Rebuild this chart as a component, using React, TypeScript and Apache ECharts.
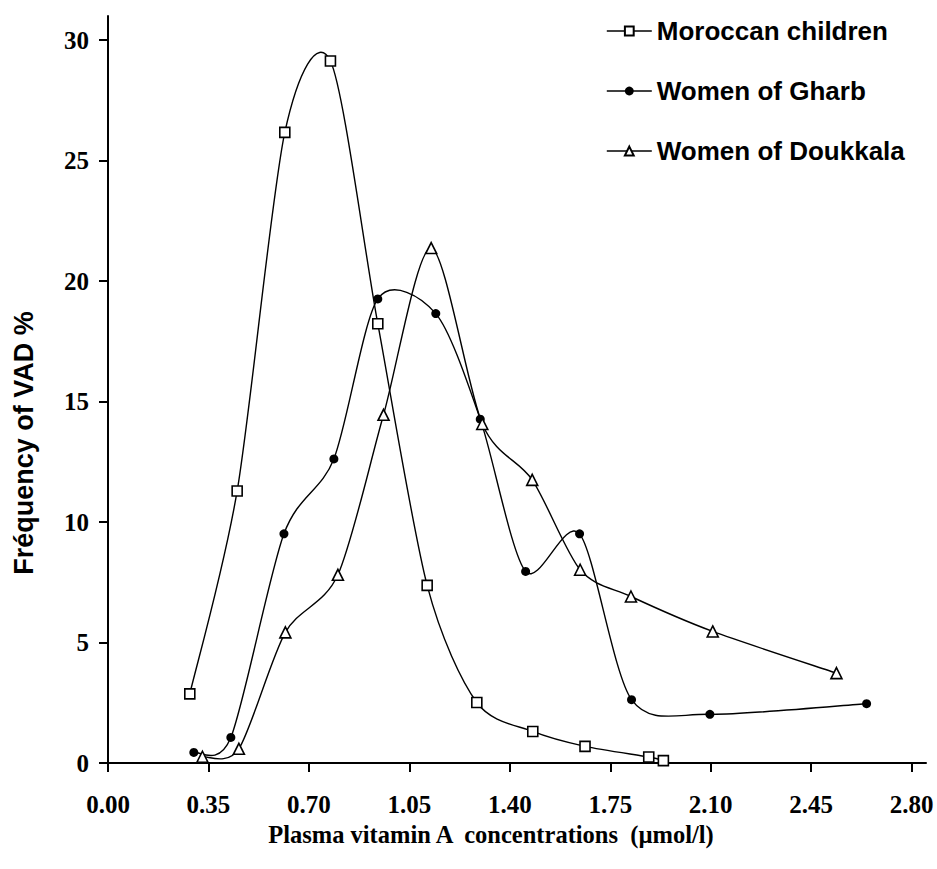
import React, { useEffect, useRef } from "react";
import * as echarts from "echarts";

const xTickValues = [0, 0.35, 0.7, 1.05, 1.4, 1.75, 2.1, 2.45, 2.8];
const yTickValues = [0, 5, 10, 15, 20, 25, 30];

const childrenX = [0.285, 0.45, 0.616, 0.775, 0.94, 1.112, 1.285, 1.48, 1.662, 1.884, 1.935];
const childrenY = [2.87, 11.29, 26.17, 29.13, 18.23, 7.37, 2.51, 1.31, 0.69, 0.25, 0.1];

const gharbX = [0.299, 0.428, 0.613, 0.787, 0.94, 1.142, 1.297, 1.455, 1.643, 1.824, 2.097, 2.643];
const gharbY = [0.44, 1.06, 9.51, 12.62, 19.26, 18.65, 14.27, 7.95, 9.51, 2.63, 2.02, 2.46];

const doukkalaX = [0.329, 0.456, 0.618, 0.801, 0.96, 1.126, 1.304, 1.478, 1.645, 1.822, 2.107, 2.538];
const doukkalaY = [0.26, 0.59, 5.42, 7.81, 14.45, 21.37, 14.07, 11.75, 8.02, 6.91, 5.46, 3.73];

const seriesNames = ["Moroccan children", "Women of Gharb", "Women of Doukkala"];

const pair = (xs: number[], ys: number[]) => xs.map((x, i) => [x, ys[i]]);

// segments for a Catmull-Rom style smoothed curve (like a spreadsheet's smoothed line)
const segments = (xs: number[], ys: number[]) => {
  const n = xs.length;
  const out: number[][] = [];
  for (let i = 0; i < n - 1; i++) {
    const a = Math.max(0, i - 1);
    const d = Math.min(n - 1, i + 2);
    out.push([xs[a], ys[a], xs[i], ys[i], xs[i + 1], ys[i + 1], xs[d], ys[d]]);
  }
  return out;
};

export default function App() {
  const ref = useRef<HTMLDivElement>(null);

  useEffect(() => {
    document.body.style.margin = "0";
    const chart = echarts.init(ref.current!, null, { renderer: "svg" });
    const serif = "'Liberation Serif', 'Times New Roman', serif";
    const sans = "'Liberation Sans', Arial, sans-serif";

    const renderCurve = (_params: any, api: any) => {
      const p0 = api.coord([api.value(0), api.value(1)]);
      const p1 = api.coord([api.value(2), api.value(3)]);
      const p2 = api.coord([api.value(4), api.value(5)]);
      const p3 = api.coord([api.value(6), api.value(7)]);
      const t = 0.14;
      return {
        type: "bezierCurve",
        shape: {
          x1: p1[0],
          y1: p1[1],
          x2: p2[0],
          y2: p2[1],
          cpx1: p1[0] + (p2[0] - p0[0]) * t,
          cpy1: p1[1] + (p2[1] - p0[1]) * t,
          cpx2: p2[0] - (p3[0] - p1[0]) * t,
          cpy2: p2[1] - (p3[1] - p1[1]) * t,
        },
        style: { stroke: "#000", lineWidth: 1.4, fill: null },
        silent: true,
      };
    };

    const curve = (id: string, xs: number[], ys: number[]) => ({
      type: "custom",
      name: id,
      z: 1,
      clip: false,
      renderItem: renderCurve,
      encode: { x: [0, 2, 4, 6], y: [1, 3, 5, 7] },
      data: segments(xs, ys),
    });

    const markerBase = {
      type: "line",
      z: 3,
      lineStyle: { color: "#000", width: 0, opacity: 0 },
    };

    chart.setOption({
      animation: false,
      backgroundColor: "#fff",
      grid: { left: 108, right: 11, top: 16, bottom: 106, containLabel: false },
      legend: {
        orient: "vertical",
        left: 601,
        top: 11,
        itemWidth: 45,
        itemHeight: 11,
        itemGap: 30,
        data: seriesNames,
        lineStyle: { color: "#000", width: 1.6, opacity: 1 },
        textStyle: {
          fontFamily: sans,
          fontWeight: "bold",
          fontSize: 26,
          lineHeight: 30,
          color: "#000",
        },
      },
      xAxis: {
        type: "value",
        min: 0,
        max: 2.85,
        interval: 0.35,
        axisLine: { show: true, onZero: false, lineStyle: { color: "#000", width: 2 } },
        axisTick: { show: true, length: 9, customValues: xTickValues, lineStyle: { color: "#000", width: 2 } },
        axisLabel: {
          customValues: xTickValues,
          formatter: (v: number) => v.toFixed(2),
          fontFamily: serif,
          fontWeight: "bold",
          fontSize: 25,
          color: "#000",
          margin: 29,
        },
        splitLine: { show: false },
      },
      yAxis: {
        type: "value",
        min: 0,
        max: 31,
        interval: 5,
        axisLine: { show: true, lineStyle: { color: "#000", width: 2 } },
        axisTick: { show: true, length: 9, customValues: yTickValues, lineStyle: { color: "#000", width: 2 } },
        axisLabel: {
          customValues: yTickValues,
          fontFamily: serif,
          fontWeight: "bold",
          fontSize: 25,
          color: "#000",
          margin: 19,
        },
        splitLine: { show: false },
      },
      graphic: [
        {
          type: "text",
          x: 24,
          y: 443,
          rotation: Math.PI / 2,
          style: {
            text: "Fréquency of VAD %",
            fontFamily: sans,
            fontWeight: "bold",
            fontSize: 27,
            fill: "#000",
            align: "center",
            verticalAlign: "middle",
          },
        },
        {
          type: "text",
          x: 491,
          y: 834,
          style: {
            text: "Plasma vitamin A  concentrations  (µmol/l)",
            fontFamily: serif,
            fontWeight: "bold",
            fontSize: 24.5,
            fill: "#000",
            align: "center",
            verticalAlign: "middle",
          },
        },
      ],
      series: [
        curve("curve-children", childrenX, childrenY),
        curve("curve-gharb", gharbX, gharbY),
        curve("curve-doukkala", doukkalaX, doukkalaY),
        {
          ...markerBase,
          name: seriesNames[0],
          data: pair(childrenX, childrenY),
          symbol: "rect",
          symbolSize: 10,
          itemStyle: { color: "#fff", borderColor: "#000", borderWidth: 1.6 },
        },
        {
          ...markerBase,
          name: seriesNames[1],
          data: pair(gharbX, gharbY),
          symbol: "circle",
          symbolSize: 9,
          itemStyle: { color: "#000", borderColor: "#000", borderWidth: 0 },
        },
        {
          ...markerBase,
          name: seriesNames[2],
          data: pair(doukkalaX, doukkalaY),
          symbol: "triangle",
          symbolSize: 11,
          itemStyle: { color: "#fff", borderColor: "#000", borderWidth: 1.6 },
        },
      ],
    });
    return () => chart.dispose();
  }, []);

  return <div ref={ref} style={{ width: 937, height: 869 }} />;
}
